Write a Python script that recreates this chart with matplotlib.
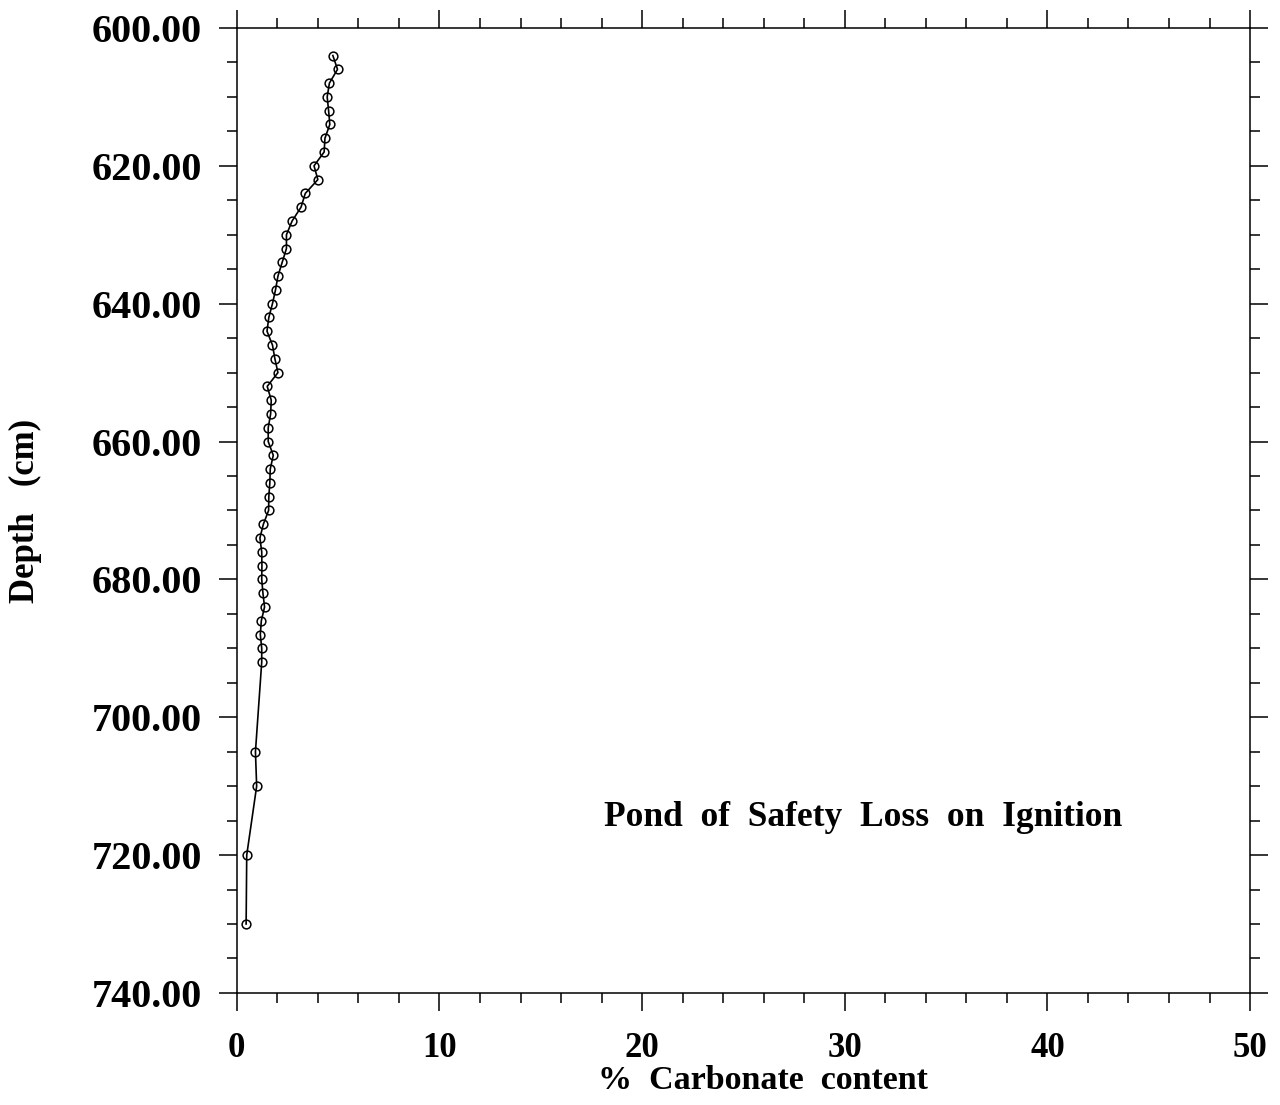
import numpy as np
import matplotlib.pyplot as plt
from matplotlib.ticker import MultipleLocator, FormatStrFormatter

# % carbonate vs depth (cm)
depth = [604, 606, 608, 610, 612, 614, 616, 618, 620, 622, 624, 626, 628, 630,
         632, 634, 636, 638, 640, 642, 644, 646, 648, 650, 652, 654, 656, 658,
         660, 662, 664, 666, 668, 670, 672, 674, 676, 678, 680, 682, 684, 686,
         688, 690, 692, 705, 710, 720, 730]
carbonate = [4.74, 4.97, 4.57, 4.46, 4.53, 4.59, 4.35, 4.31, 3.81, 4.00, 3.38,
             3.17, 2.73, 2.45, 2.45, 2.24, 2.03, 1.91, 1.76, 1.58, 1.49, 1.76,
             1.88, 2.03, 1.50, 1.70, 1.67, 1.55, 1.55, 1.80, 1.65, 1.63, 1.58,
             1.57, 1.31, 1.14, 1.23, 1.24, 1.23, 1.29, 1.37, 1.21, 1.16, 1.23,
             1.23, 0.92, 0.98, 0.49, 0.46]

plt.rcParams['font.family'] = ['Liberation Serif', 'DejaVu Serif']
plt.rcParams['font.weight'] = 'bold'

fig = plt.figure(figsize=(12.8, 11.05), dpi=100)
ax = fig.add_axes([0.185, 0.1014, 0.7916, 0.8733])

ax.plot(carbonate, depth, color='black', lw=1.2, marker='o', ms=6.3,
        mfc='none', mec='black', mew=1.1)

ax.set_xlim(0, 50)
ax.set_ylim(740, 600)
ax.xaxis.set_major_locator(MultipleLocator(10))
ax.xaxis.set_minor_locator(MultipleLocator(2))
ax.yaxis.set_major_locator(MultipleLocator(20))
ax.yaxis.set_minor_locator(MultipleLocator(5))
ax.yaxis.set_major_formatter(FormatStrFormatter('%.2f'))

ax.tick_params(which='both', direction='out', top=True, right=True, width=1.1)
ax.tick_params(which='major', length=13)
ax.tick_params(which='minor', length=7)
ax.tick_params(axis='y', which='major', labelsize=29, pad=12)
ax.tick_params(axis='x', which='major', labelsize=25, pad=15)
for s in ax.spines.values():
    s.set_linewidth(1.1)

ax.set_xlabel('%  Carbonate  content', fontsize=24.5, fontweight='bold')
ax.xaxis.set_label_coords(0.519, -0.075)
ax.set_ylabel('Depth   (cm)', fontsize=25, fontweight='bold', labelpad=36)

ax.text(30.9, 714.6, 'Pond  of  Safety  Loss  on  Ignition', fontsize=25.5,
        fontweight='bold', ha='center', va='center')

fig.savefig('out.png', dpi=100)
